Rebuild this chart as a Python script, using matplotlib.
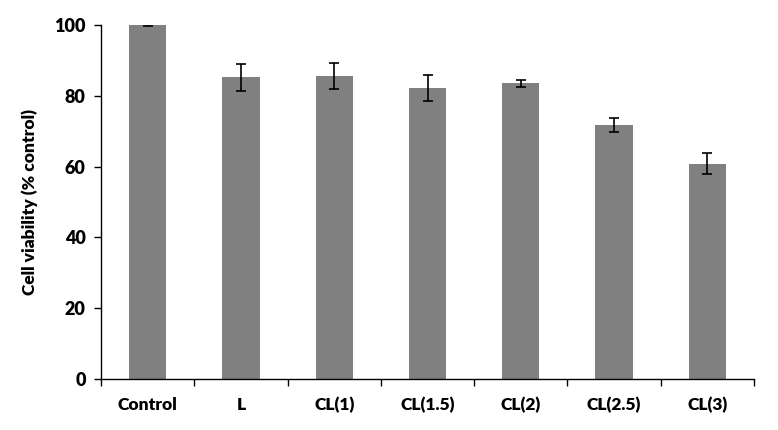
import matplotlib
matplotlib.use("Agg")
import matplotlib.pyplot as plt
import numpy as np

categories = ["Control", "L", "CL(1)", "CL(1.5)", "CL(2)", "CL(2.5)", "CL(3)"]
viability = [100.0, 85.2, 85.6, 82.2, 83.5, 71.8, 60.8]
errors = [0.2, 3.8, 3.6, 3.7, 0.9, 2.0, 2.9]

plt.rcParams["font.family"] = ["Lato", "DejaVu Sans"]
plt.rcParams["font.weight"] = "bold"

fig = plt.figure(figsize=(7.78, 4.30), dpi=100)
ax = fig.add_axes([0.13, 0.1186, 0.839, 0.8233])

x = np.arange(len(categories))
ax.bar(x, viability, width=0.4, color="#808080", zorder=2)
ax.errorbar(x, viability, yerr=errors, fmt="none", ecolor="black",
            elinewidth=1.2, capsize=3.5, capthick=1.2, zorder=3)

ax.set_xlim(-0.5, len(categories) - 0.5)
ax.set_ylim(0, 100)
ax.set_yticks(np.arange(0, 101, 20))
ax.set_xticks(x)
ax.set_xticklabels(categories, fontsize=12.5, fontweight="heavy")
ax.set_xticks(np.arange(-0.5, len(categories), 1), minor=True)
ax.tick_params(axis="x", which="major", length=0, pad=13)
ax.tick_params(axis="x", which="minor", length=5, width=1, direction="out")
ax.tick_params(axis="y", length=5, width=1, direction="out", labelsize=13, pad=6)
for lbl in ax.get_yticklabels():
    lbl.set_fontweight("heavy")

for side in ["top", "right"]:
    ax.spines[side].set_visible(False)
for side in ["left", "bottom"]:
    ax.spines[side].set_linewidth(1.0)

ax.set_ylabel("Cell viability (% control)", fontsize=12.5, fontweight="heavy", labelpad=12)

fig.savefig("out.png", dpi=100)
